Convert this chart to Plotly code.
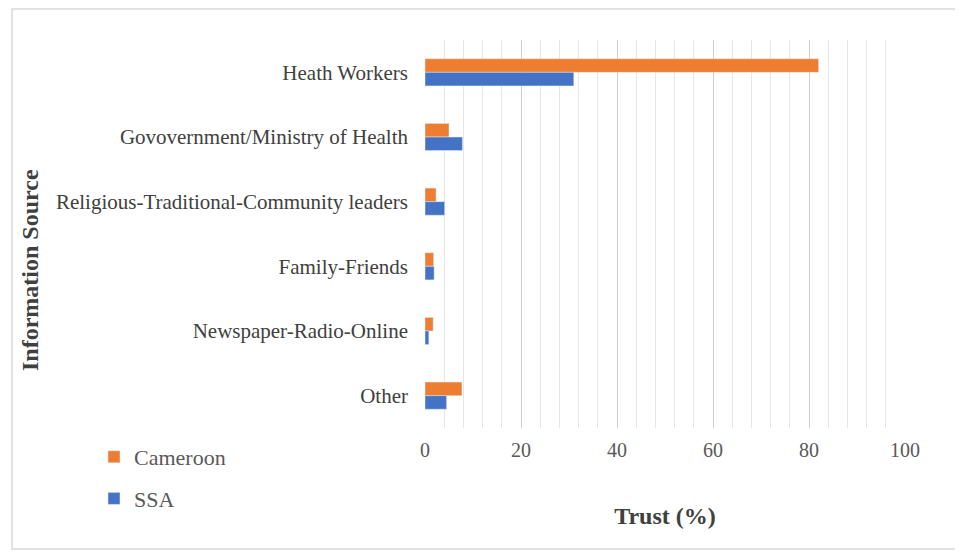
import plotly.graph_objects as go

categories = ["Heath Workers", "Govovernment/Ministry of Health",
              "Religious-Traditional-Community leaders", "Family-Friends",
              "Newspaper-Radio-Online", "Other"]
cameroon = [82.0, 5.0, 2.3, 1.8, 1.7, 7.7]
ssa = [31.0, 7.8, 4.1, 1.9, 0.8, 4.5]

# page body has an 8px margin, so figure coords = reference coords - 8
OFF = 8
W, H = 955, 544
L, R, T, B = 425 - OFF, 58, 40 - OFF, 124
pw, ph = W - L - R, H - T - B

def px(x):
    return (x - OFF - L) / pw

def py(y):
    return (H - B - (y - OFF)) / ph

FF = "Liberation Serif"
fig = go.Figure()
fig.add_trace(go.Bar(y=categories, x=cameroon, name="Cameroon", orientation="h",
                     marker_color="#ED7D31", legendgroup="a"))
fig.add_trace(go.Bar(y=categories, x=ssa, name="SSA", orientation="h",
                     marker_color="#4472C4", legendgroup="b"))

fig.update_layout(
    width=W, height=H,
    margin=dict(l=L, r=R, t=T, b=B),
    plot_bgcolor="white", paper_bgcolor="white",
    barmode="group", bargap=0.58, bargroupgap=0,
    font=dict(family=FF, color="#404040"),
    xaxis=dict(range=[0, 100], dtick=20, tick0=0, showgrid=True,
               gridcolor="#cfcfcf", gridwidth=1, zeroline=False,
               showline=False, ticks="", ticklabelstandoff=8,
               tickfont=dict(family=FF, size=20, color="#595959"),
               minor=dict(dtick=4, showgrid=True, gridcolor="#e6e6e6", gridwidth=1),
               title=dict(text="<b>Trust (%)</b>",
                          font=dict(family=FF, size=24, color="#404040"),
                          standoff=47)),
    yaxis=dict(autorange="reversed", showgrid=False, ticks="", showline=False,
               tickfont=dict(family=FF, size=21, color="#404040"),
               ticklabelstandoff=16),
    legend=dict(x=px(94), y=py(436), xanchor="left", yanchor="top",
                font=dict(family=FF, size=22, color="#595959"), tracegroupgap=10,
                itemwidth=30, bgcolor="rgba(0,0,0,0)"),
    annotations=[dict(text="<b>Information Source</b>", textangle=-90,
                      xref="paper", yref="paper", x=px(30), y=py(270),
                      xanchor="center", yanchor="middle", showarrow=False,
                      font=dict(family=FF, size=24, color="#404040"))],
    shapes=[dict(type="rect", xref="paper", yref="paper",
                 x0=px(12), x1=px(957), y0=py(549), y1=py(9),
                 line=dict(color="#d9d9d9", width=1.5))],
)
fig.write_html("out.html")
